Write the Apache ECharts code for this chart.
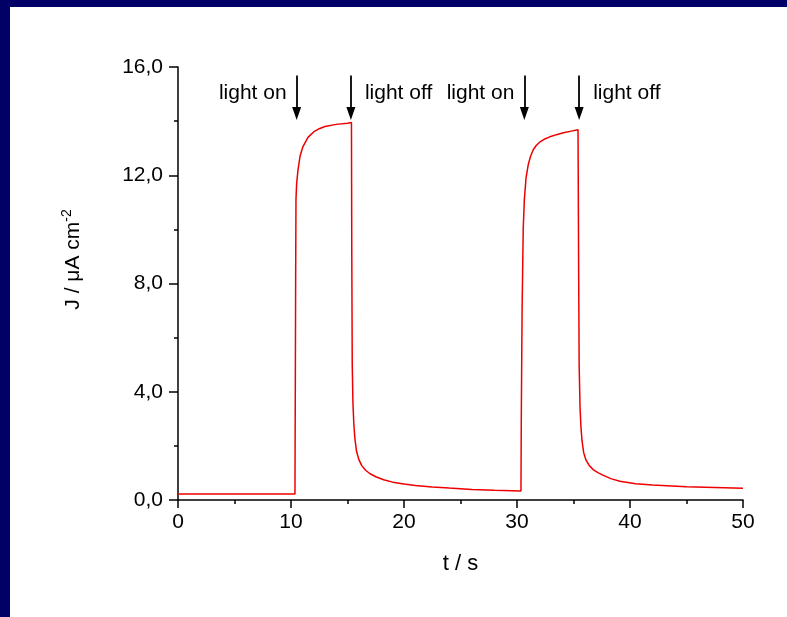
<!DOCTYPE html>
<html>
<head>
<meta charset="utf-8">
<script src="https://cdn.jsdelivr.net/npm/echarts@6/dist/echarts.min.js"></script>
<style>
  html, body { margin: 0; padding: 0; width: 787px; height: 617px; background: #000066; overflow: hidden; }
  #main { position: absolute; left: 10px; top: 7px; width: 777px; height: 610px; background: #ffffff; }
</style>
</head>
<body>
<div id="main"></div>
<script>
// ---- data ----
const timeS = [
  0, 2, 4, 6, 8, 10, 10.35,
  10.38, 10.41, 10.44, 10.5, 10.62, 10.8, 11.05, 11.5, 12.0, 12.5, 13.0, 14.0, 15.0, 15.35,
  15.38, 15.42, 15.48, 15.56, 15.66, 15.8, 16.0, 16.25, 16.6, 17.0, 17.5, 18.2, 19.0, 20.0, 21.0, 22.5, 24.0, 26.0, 28.0, 30.35,
  30.38, 30.45, 30.55, 30.65, 30.8, 31.0, 31.2, 31.45, 31.7, 32.0, 32.4, 32.9, 33.5, 34.1, 34.8, 35.4,
  35.45, 35.5, 35.58, 35.66, 35.75, 35.9, 36.1, 36.4, 36.8, 37.2, 37.6, 38.3, 39.1, 40.5, 42.0, 45.0, 47.5, 50.0
];
const currentJ = [
  0.22, 0.22, 0.22, 0.22, 0.22, 0.22, 0.22,
  4.0, 8.0, 11.1, 11.7, 12.2, 12.7, 13.05, 13.4, 13.6, 13.72, 13.8, 13.88, 13.92, 13.95,
  9.0, 5.0, 3.6, 2.8, 2.25, 1.8, 1.5, 1.28, 1.1, 0.97, 0.86, 0.75, 0.66, 0.59, 0.54, 0.48, 0.44, 0.39, 0.36, 0.33,
  3.0, 7.0, 10.0, 11.1, 11.9, 12.4, 12.7, 12.95, 13.1, 13.22, 13.33, 13.42, 13.5, 13.57, 13.63, 13.68,
  9.0, 5.0, 3.4, 2.7, 2.2, 1.75, 1.48, 1.27, 1.1, 1.0, 0.92, 0.79, 0.69, 0.60, 0.55, 0.49, 0.46, 0.43
];
const xTicks = [0, 10, 20, 30, 40, 50];
const yTickLabels = ['0,0', '4,0', '8,0', '12,0', '16,0'];
const arrowTimes = [10.5, 15.3, 30.65, 35.5];
const arrowTexts = ['light on', 'light off', 'light on', 'light off'];
const arrowTop = 15.69;
const arrowBottom = 14.28;
const textLevel = 15.02;

const FONT = 'Liberation Sans, Arial, Helvetica, sans-serif';
const chart = echarts.init(document.getElementById('main'), null, { renderer: 'canvas' });

const seriesData = timeS.map((t, i) => [t, currentJ[i]]);
const arrowLines = arrowTimes.map(t => [
  { coord: [t, arrowTop], symbol: 'none' },
  { coord: [t, arrowBottom], symbol: 'path://M4.5,0 L9,13 L0,13 Z', symbolSize: [9, 13] }
]);
const labelPoints = arrowTimes.map((t, i) => {
  const onLeft = arrowTexts[i] === 'light on';
  return {
    coord: [t, textLevel],
    label: {
      show: true,
      formatter: arrowTexts[i],
      position: onLeft ? 'left' : 'right',
      distance: onLeft ? 10 : 14
    }
  };
});

chart.setOption({
  animation: false,
  backgroundColor: '#ffffff',
  grid: { left: 168, top: 60, right: 44, bottom: 117, containLabel: false, outerBoundsMode: 'none' },
  xAxis: {
    type: 'value',
    min: xTicks[0], max: xTicks[xTicks.length - 1], interval: 10,
    name: 't / s', nameLocation: 'middle', nameGap: 53,
    nameTextStyle: { fontFamily: FONT, fontSize: 22, color: '#000' },
    axisLine: { onZero: false, lineStyle: { color: '#000', width: 1.5 } },
    axisTick: { show: true, length: 8, lineStyle: { color: '#000', width: 1.5 } },
    minorTick: { show: true, splitNumber: 2, length: 4, lineStyle: { color: '#000', width: 1.5 } },
    splitLine: { show: false },
    axisLabel: { fontFamily: FONT, fontSize: 21, color: '#000', margin: 12 }
  },
  yAxis: {
    type: 'value',
    min: 0, max: 16, interval: 4,
    name: '{a|J / μA cm}{b|-2}', nameLocation: 'middle', nameGap: 92,
    nameTextStyle: {
      fontFamily: FONT, color: '#000', padding: [0, 0, 0, 48],
      rich: {
        a: { fontFamily: FONT, fontSize: 21, color: '#000' },
        b: { fontFamily: FONT, fontSize: 14, color: '#000', padding: [0, 0, 12, 0] }
      }
    },
    axisLine: { show: true, onZero: false, lineStyle: { color: '#000', width: 1.5 } },
    axisTick: { show: true, length: 9, lineStyle: { color: '#000', width: 1.5 } },
    minorTick: { show: true, splitNumber: 2, length: 4, lineStyle: { color: '#000', width: 1.5 } },
    splitLine: { show: false },
    axisLabel: {
      fontFamily: FONT, fontSize: 21, color: '#000', margin: 15,
      formatter: v => yTickLabels[Math.round(v / 4)]
    }
  },
  series: [{
    type: 'line',
    data: seriesData,
    showSymbol: false,
    symbol: 'none',
    lineStyle: { color: '#ee0000', width: 1.5 },
    silent: true,
    markLine: {
      silent: true,
      symbol: ['none', 'triangle'],
      symbolSize: 12,
      lineStyle: { color: '#000', width: 1.8, type: 'solid' },
      itemStyle: { color: '#000' },
      label: { show: false },
      emphasis: { disabled: true },
      data: arrowLines
    },
    markPoint: {
      silent: true,
      symbol: 'circle',
      symbolSize: 0,
      itemStyle: { color: 'rgba(0,0,0,0)' },
      label: { fontFamily: FONT, fontSize: 21, color: '#000' },
      data: labelPoints
    }
  }]
});
</script>
</body>
</html>
